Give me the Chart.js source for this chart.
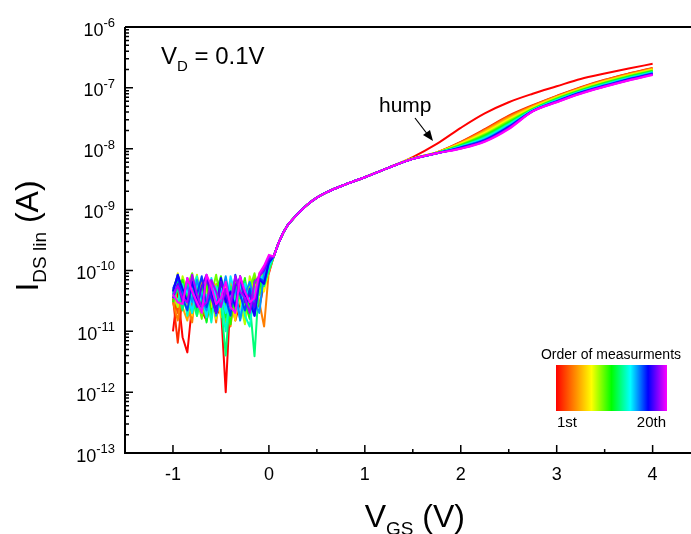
<!DOCTYPE html>
<html>
<head>
<meta charset="utf-8">
<script src="https://cdn.jsdelivr.net/npm/chart.js@4/dist/chart.umd.min.js"></script>
<style>
  html,body{margin:0;padding:0;background:#fff;overflow:hidden}
  #wrap{width:691px;height:534px}
</style>
</head>
<body>
<div id="wrap"><canvas id="c" width="691" height="534"></canvas></div>
<script>
/* ------------ data ------------ */
// off region: V_GS from -1 to 0 (0.05 V steps), values in pA, one row per measurement
const VG_OFF = [-1,-0.95,-0.9,-0.85,-0.8,-0.75,-0.7,-0.65,-0.6,-0.55,-0.5,-0.45,-0.4,-0.35,-0.3,-0.25,-0.2,-0.15,-0.1,-0.05,0];
const NOISE_PA = [
  [10,45,8,4.5,28,50,22,15,35,18,25,1.0,40,15,30,55,20,45,25,60,90],
  [35,6.5,40,60,22,45,28,60,20,40,30,18,50,25,65,30,45,20,55,75,110],
  [45,20,55,30,70,25,40,18,60,35,50,22,45,70,28,40,20,65,40,80,120],
  [30,15,50,25,14,80,35,16,55,14,60,30,12,50,70,15,40,80,30,12,100],
  [40,60,25,15,45,30,70,16,40,60,25,14,70,35,16,55,30,45,85,50,95],
  [50,30,65,40,18,55,30,75,25,45,17,60,35,15,75,40,25,60,40,85,130],
  [35,90,40,20,60,30,45,15,70,40,22,55,18,80,35,16,60,30,90,45,115],
  [40,25,80,45,30,85,20,50,35,16,65,40,25,70,30,13,80,45,70,95,140],
  [45,85,30,55,90,35,16,60,40,85,30,15,55,40,75,20,50,90,40,75,125],
  [30,55,70,35,20,60,25,70,18,45,80,30,13,60,35,75,22,40,85,60,105],
  [40,70,25,45,75,18,55,14,50,30,70,17,45,22,80,30,16,70,50,90,135],
  [35,50,22,60,35,18,45,25,65,20,30,4.0,55,25,40,65,30,3.9,75,55,100],
  [45,30,60,18,50,80,22,40,14,55,35,10,45,30,60,18,12,45,70,85,150],
  [40,80,35,50,20,65,40,17,75,30,50,20,80,40,16,60,35,22,80,70,120],
  [45,85,40,55,30,70,35,22,60,18,35,80,30,55,15,40,65,30,20,90,160],
  [50,75,35,22,60,40,80,25,45,20,70,35,18,85,40,22,50,18,75,65,130],
  [45,85,50,30,65,35,25,80,40,20,75,30,45,25,80,40,30,18,70,60,140],
  [35,60,30,75,45,25,55,85,35,20,65,40,25,55,75,30,40,25,80,100,150],
  [40,55,35,30,85,40,25,30,70,45,25,50,30,80,45,35,20,65,80,110,170],
  [40,30,28,75,45,30,20,85,55,28,35,65,25,20,80,45,30,35,90,120,180]
];
// turn-on, identical for all runs (pA)
const VG_RISE = [0.05,0.1,0.15,0.2];
const RISE_PA = [170,280,420,570];
// subthreshold / linear part shared by all runs (nA)
const VG_ON = [0.2,0.3,0.4,0.5,0.6,0.8,1.0,1.25];
const ON_NA = [0.57,0.85,1.2,1.57,1.92,2.6,3.4,4.9];
// hump region, one row per measurement (nA)
const VG_HIGH = [1.5,1.75,2.0,2.25,2.5,2.75,3.0,3.25,3.5,3.75,4.0];
const HIGH_NA = [
  [7.3,12,22,38,58,80,106,140,172,208,248],
  [6.9,8.7,13.0,21.0,35,52,74,103,136,172,213],
  [6.9,8.7,12.8,20.5,34,51,73,101,134,170,210],
  [6.9,8.7,12.6,20.0,33,50,72,100,132,168,207],
  [6.9,8.6,12.4,19.4,32,49,71,98,130,165,204],
  [6.9,8.6,12.2,18.8,31,48,70,97,128,163,201],
  [6.9,8.6,12.0,18.2,30,47,69,95,126,160,198],
  [6.9,8.6,11.8,17.6,29,46,68,94,124,158,195],
  [6.8,8.5,11.6,17.0,28,45,67,92,122,156,192],
  [6.8,8.5,11.4,16.5,27,44.5,66,91,120,153,189],
  [6.8,8.5,11.2,16.0,26,44,65,89,118,151,186],
  [6.8,8.5,11.0,15.5,25.5,43.5,64,88,116,148,183],
  [6.8,8.4,10.9,15.0,25,43,63,87,114,146,180],
  [6.8,8.4,10.8,14.6,24,42.5,62,86,112,143,177],
  [6.8,8.4,10.6,14.2,23.5,42,61,85,110,141,174],
  [6.8,8.4,10.5,13.9,23,41.8,60,84,109,139,172],
  [6.8,8.4,10.4,13.6,22.5,41.5,59.5,83,107,137,169],
  [6.8,8.4,10.2,13.4,22,41.3,59,82,106,135,167],
  [6.8,8.4,10.1,13.2,21.5,41.1,58.5,81,105,133,165],
  [6.8,8.4,10.0,13.0,21,41,58,80,104,132,163]
];
const X_TICKS = [-1,0,1,2,3,4];
const X_MINOR = [-0.5,0.5,1.5,2.5,3.5];
const Y_EXP   = [-13,-12,-11,-10,-9,-8,-7,-6];

/* ------------ colours ------------ */
const CMAP = [[0,[255,0,0]],[0.32,[255,255,0]],[0.5,[0,255,0]],[0.67,[0,255,255]],[0.83,[0,0,255]],[1,[255,0,255]]];
function cmap(t){
  for(let k=1;k<CMAP.length;k++){
    if(t<=CMAP[k][0]){
      const [t0,c0]=CMAP[k-1],[t1,c1]=CMAP[k];const f=(t-t0)/(t1-t0);
      return `rgb(${c0.map((c,j)=>Math.round(c+(c1[j]-c)*f)).join(',')})`;
    }
  }
  return 'rgb(255,0,255)';
}

/* ------------ datasets ------------ */
const N = NOISE_PA.length;
const datasets = [];
for(let i=0;i<N;i++){
  const col = cmap(i/(N-1));
  const off = VG_OFF.map((v,k)=>({x:v,y:NOISE_PA[i][k]*1e-12}))
    .concat(VG_RISE.map((v,k)=>({x:v,y:RISE_PA[k]*1e-12})));
  const on = VG_ON.map((v,k)=>({x:v,y:ON_NA[k]*1e-9}))
    .concat(VG_HIGH.map((v,k)=>({x:v,y:HIGH_NA[i][k]*1e-9})));
  datasets.push({data:off,borderColor:col,borderWidth:2,pointRadius:0,tension:0,
                 borderJoinStyle:'round',borderCapStyle:'butt',order:N-1-i});
  datasets.push({data:on,borderColor:col,borderWidth:2,pointRadius:0,cubicInterpolationMode:'monotone',
                 borderJoinStyle:'round',order:N-1-i});
}

/* ------------ frame, ticks, texts ------------ */
const FONT = '"Liberation Sans", Arial, sans-serif';
function subText(ctx, x, y, parts){
  // parts: [text, size, dy]
  let cx = x;
  parts.forEach(([t,s,dy])=>{ctx.font=`${s}px ${FONT}`;ctx.fillText(t,cx,y+dy);cx+=ctx.measureText(t).width;});
  return cx;
}
function partsWidth(ctx, parts){
  return parts.reduce((w,[t,s])=>{ctx.font=`${s}px ${FONT}`;return w+ctx.measureText(t).width;},0);
}
const decor = {
  id:'decor',
  afterDraw(chart){
    const {ctx, chartArea:a, scales:{x,y}} = chart;
    ctx.save();
    ctx.strokeStyle='#000';ctx.fillStyle='#000';
    ctx.lineWidth=2;
    ctx.beginPath();
    ctx.moveTo(a.left,a.top);ctx.lineTo(a.right,a.top);
    ctx.moveTo(a.left,a.top);ctx.lineTo(a.left,a.bottom);ctx.lineTo(a.right,a.bottom);
    ctx.stroke();
    ctx.lineWidth=1.5;
    ctx.beginPath();
    X_TICKS.forEach(v=>{const p=x.getPixelForValue(v);ctx.moveTo(p,a.bottom);ctx.lineTo(p,a.bottom-8);});
    X_MINOR.forEach(v=>{const p=x.getPixelForValue(v);ctx.moveTo(p,a.bottom);ctx.lineTo(p,a.bottom-4);});
    Y_EXP.forEach(e=>{
      const p=y.getPixelForValue(Math.pow(10,e));ctx.moveTo(a.left,p);ctx.lineTo(a.left+8,p);
      if(e<-6) for(let m=2;m<=9;m++){const q=y.getPixelForValue(m*Math.pow(10,e));ctx.moveTo(a.left,q);ctx.lineTo(a.left+4,q);}
    });
    ctx.stroke();

    // tick labels
    ctx.textBaseline='alphabetic';
    ctx.textAlign='center';ctx.font=`18px ${FONT}`;
    X_TICKS.forEach(v=>ctx.fillText(String(v),x.getPixelForValue(v),a.bottom+27));
    ctx.textAlign='left';
    Y_EXP.forEach(e=>{
      const p=y.getPixelForValue(Math.pow(10,e));
      const parts=[['10',18,8.5],[String(e),13,0]];
      subText(ctx,a.left-10-partsWidth(ctx,parts),p,parts);
    });

    // axis titles
    const xt=[['V',32,0],['GS',19,8],[' (V)',32,0]];
    subText(ctx,x.getPixelForValue(1.5)-partsWidth(ctx,xt)/2+2,527,xt);
    ctx.save();
    ctx.translate(38,236);ctx.rotate(-Math.PI/2);
    const yt=[['I',32,0],['DS lin',19,8],[' (A)',32,0]];
    subText(ctx,-partsWidth(ctx,yt)/2,0,yt);
    ctx.restore();

    // annotations
    subText(ctx,161,64,[['V',24,0],['D',15,7],[' = 0.1V',24,0]]);
    ctx.font=`21px ${FONT}`;ctx.fillText('hump',379,112);
    ctx.lineWidth=1.2;ctx.beginPath();ctx.moveTo(415,118);ctx.lineTo(428,135);ctx.stroke();
    ctx.beginPath();ctx.moveTo(433,141);ctx.lineTo(423,135);ctx.lineTo(430,130);ctx.closePath();ctx.fill();

    // colour bar
    const g=ctx.createLinearGradient(556,0,667,0);
    CMAP.forEach(([t])=>g.addColorStop(t,cmap(t)));
    ctx.fillStyle=g;ctx.fillRect(556,365,111,46);
    ctx.fillStyle='#000';
    ctx.font=`14px ${FONT}`;ctx.textAlign='center';ctx.fillText('Order of measurments',611,359);
    ctx.font=`15px ${FONT}`;ctx.textAlign='left';ctx.fillText('1st',557,427);
    ctx.textAlign='right';ctx.fillText('20th',666,427);
    ctx.restore();
  }
};

/* ------------ chart ------------ */
new Chart(document.getElementById('c'),{
  type:'line',
  data:{datasets},
  options:{
    responsive:false,animation:false,
    layout:{padding:{top:27,right:0,left:0,bottom:0}},
    plugins:{legend:{display:false},tooltip:{enabled:false}},
    scales:{
      x:{type:'linear',min:-1.5,max:4.4,
         grid:{display:false},border:{display:false},ticks:{display:false},
         afterFit:s=>{s.height=81;}},
      y:{type:'logarithmic',min:1e-13,max:1e-6,
         grid:{display:false},border:{display:false},ticks:{display:false},
         afterFit:s=>{s.width=125;}}
    }
  },
  plugins:[decor]
});
</script>
</body>
</html>
